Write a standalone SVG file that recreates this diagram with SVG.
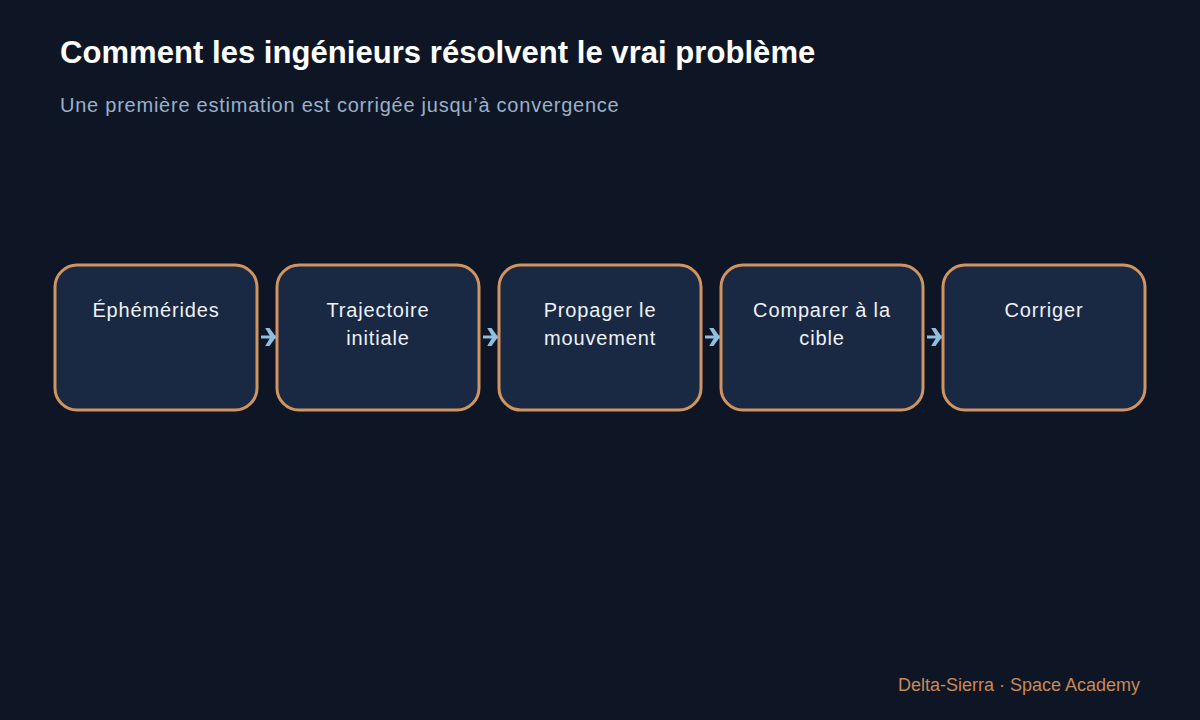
<svg xmlns="http://www.w3.org/2000/svg" width="1200" height="720" viewBox="0 0 1200 720">
<defs>
<style>
.bg{fill:#0e1626}
.title{font-family:"Liberation Sans",Arial,sans-serif;font-size:31px;font-weight:bold;fill:#ffffff;letter-spacing:0.05px}
.sub{font-family:"Liberation Sans",Arial,sans-serif;font-size:20px;fill:#9bb0c8;letter-spacing:0.76px}
.box{fill:#1a2943;stroke:#cf9460;stroke-width:3}
.lbl{font-family:"Liberation Sans",Arial,sans-serif;font-size:20px;fill:#eef2f7;text-anchor:middle;letter-spacing:0.85px}
.conn{stroke:#8fbfe0;stroke-width:3;fill:none}
.foot{font-family:"Liberation Sans",Arial,sans-serif;font-size:18px;fill:#c88a55;text-anchor:end}
</style>
<marker id="arr" viewBox="0 0 10 12" refX="10" refY="6" markerWidth="3.6" markerHeight="6" orient="auto" markerUnits="strokeWidth" preserveAspectRatio="none">
<path d="M0,0 L4,0 L10,6 L4,12 L0,12 L5,6 Z" fill="#8fbfe0"/>
</marker>
</defs>
<rect class="bg" x="0" y="0" width="1200" height="720"/>
<text class="title" x="60" y="63">Comment les ingénieurs résolvent le vrai problème</text>
<text class="sub" x="60" y="112">Une première estimation est corrigée jusqu’à convergence</text>
<g id="connectors">
<line class="conn" x1="261" y1="337" x2="276" y2="337" marker-end="url(#arr)"/>
<line class="conn" x1="483" y1="337" x2="498" y2="337" marker-end="url(#arr)"/>
<line class="conn" x1="705" y1="337" x2="720" y2="337" marker-end="url(#arr)"/>
<line class="conn" x1="927" y1="337" x2="942" y2="337" marker-end="url(#arr)"/>
</g>
<g id="n1"><rect class="box" x="55" y="265" width="202" height="145" rx="22"/><text class="lbl" x="156" y="317">Éphémérides</text></g>
<g id="n2"><rect class="box" x="277" y="265" width="202" height="145" rx="22"/><text class="lbl" x="378" y="317">Trajectoire</text><text class="lbl" x="378" y="345">initiale</text></g>
<g id="n3"><rect class="box" x="499" y="265" width="202" height="145" rx="22"/><text class="lbl" x="600" y="317">Propager le</text><text class="lbl" x="600" y="345">mouvement</text></g>
<g id="n4"><rect class="box" x="721" y="265" width="202" height="145" rx="22"/><text class="lbl" x="822" y="317">Comparer à la</text><text class="lbl" x="822" y="345">cible</text></g>
<g id="n5"><rect class="box" x="943" y="265" width="202" height="145" rx="22"/><text class="lbl" x="1044" y="317">Corriger</text></g>
<text class="foot" x="1140" y="691">Delta-Sierra · Space Academy</text>
</svg>
